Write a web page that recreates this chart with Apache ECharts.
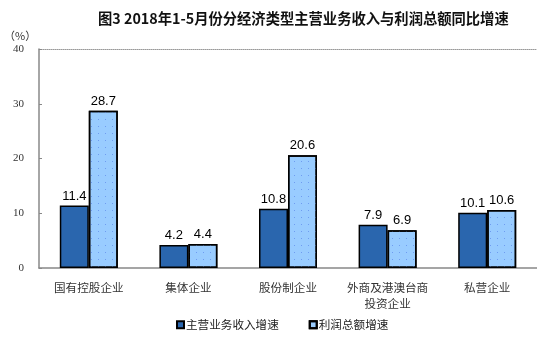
<!DOCTYPE html>
<html><head><meta charset="utf-8">
<script src="https://cdn.jsdelivr.net/npm/echarts@6/dist/echarts.min.js"></script>
<style>html,body{margin:0;padding:0;background:#fff}#c{width:537px;height:348px}</style>
</head><body><div id="c"></div>
<script>
var categories = ['国有控股企业', '集体企业', '股份制企业', '外商及港澳台商\n投资企业', '私营企业'];
var seriesNames = ['主营业务收入增速', '利润总额增速'];
var revenueGrowth = [11.4, 4.2, 10.8, 7.9, 10.1];
var profitGrowth = [28.7, 4.4, 20.6, 6.9, 10.6];
var yTicks = [0, 10, 20, 30, 40];
var titleText = '图3 2018年1-5月份分经济类型主营业务收入与利润总额同比增速';

var chart = echarts.init(document.getElementById('c'));
var labelCfg = {show: true, position: 'top', distance: 3, color: '#000', fontFamily: 'Liberation Sans, Arial', fontSize: 13};
chart.setOption({
  animation: false,
  title: {text: titleText, left: 93, top: 6,
    textStyle: {fontFamily: 'Noto Sans CJK SC', fontSize: 14.3, fontWeight: 'bold', color: '#111'}},
  graphic: [{type: 'text', left: 4, top: 30, style: {text: '（%）', fontFamily: 'Noto Sans CJK SC', fontSize: 11, fill: '#333'}}],
  legend: {left: 171, top: 314, itemWidth: 7, itemHeight: 7, itemGap: 30, icon: 'rect',
    textStyle: {fontFamily: 'Noto Sans CJK SC', fontSize: 11.6, color: '#222', padding: [0,0,0,-3]}},
  grid: {left: 39, top: 49, width: 500, height: 219},
  xAxis: [{type: 'category', data: categories, position: 'bottom',
    axisLine: {lineStyle: {color: '#888', width: 1.5}}, axisTick: {show: false},
    axisLabel: {interval: 0, margin: 12, fontFamily: 'Noto Sans CJK SC', fontSize: 11.6, color: '#333', lineHeight: 16}},
   {type: 'category', data: categories, position: 'top',
    axisLine: {lineStyle: {color: '#999', width: 1, type: 'dotted'}}, axisTick: {show: false}, axisLabel: {show: false}}],
  yAxis: {type: 'value', min: 0, max: 40, interval: 10,
    axisLine: {show: true, lineStyle: {color: '#888', width: 1.5}},
    axisTick: {show: true, inside: true, length: 3, lineStyle: {color: '#888'}},
    splitLine: {show: false},
    axisLabel: {margin: 15, fontFamily: 'Liberation Serif', fontSize: 11, color: '#333'}},
  series: [
    {name: seriesNames[0], type: 'bar', data: revenueGrowth, barWidth: 29, barGap: '0%',
     itemStyle: {color: '#2a66ae', borderColor: '#000', borderWidth: 1.5}, label: labelCfg},
    {name: seriesNames[1], type: 'bar', data: profitGrowth, barWidth: 29, barGap: '0%',
     itemStyle: {color: '#99ccff', borderColor: '#000', borderWidth: 1.5,
       decal: {symbol: 'rect', symbolSize: 1, color: '#6f9cf0', dashArrayX: [1, 6], dashArrayY: [1, 6], rotation: 0}},
     label: labelCfg}
  ]
});
</script></body></html>
